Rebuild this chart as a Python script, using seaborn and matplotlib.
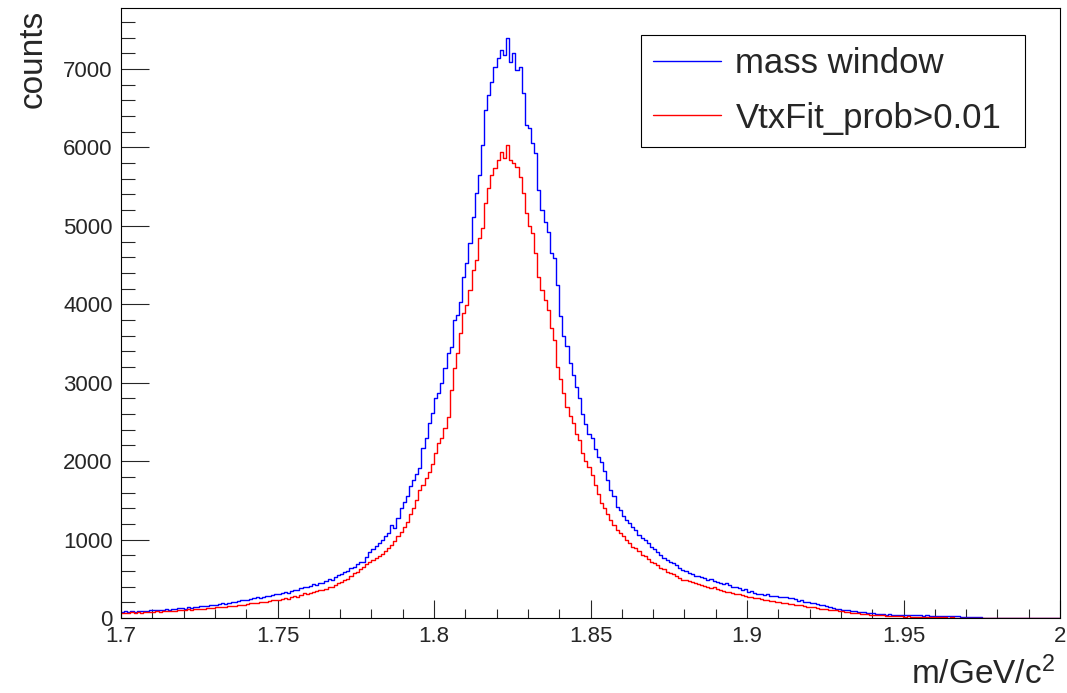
import numpy as np
import pandas as pd
import seaborn as sns
import matplotlib.pyplot as plt
from matplotlib.lines import Line2D
from matplotlib.ticker import MultipleLocator, FormatStrFormatter

# histogram: 300 bins of width 0.001 between 1.7 and 2.0 GeV/c^2
x_min, x_max, n_bins = 1.7, 2.0, 300

mass_window = [
    78, 84, 76, 88, 82, 90, 86, 94, 88, 96,
    102, 98, 108, 104, 112, 106, 118, 114, 122, 126,
    120, 138, 132, 144, 140, 150, 156, 148, 162, 168,
    160, 176, 187, 180, 194, 204, 198, 212, 224, 232,
    226, 244, 250, 262, 256, 272, 284, 276, 296, 306,
    300, 322, 330, 318, 348, 360, 354, 380, 400, 392,
    412, 430, 420, 452, 442, 470, 494, 486, 520, 548,
    560, 582, 600, 640, 655, 690, 720, 710, 780, 846,
    880, 920, 960, 1000, 1040, 1080, 1180, 1150, 1280, 1400,
    1483, 1560, 1680, 1760, 1840, 1908, 2163, 2290, 2482, 2610,
    2800, 2865, 2992, 3183, 3375, 3460, 3800, 3863, 4033, 4352,
    4522, 4777, 5117, 5414, 5648, 6030, 6477, 6668, 6838, 7030,
    7136, 7242, 7178, 7400, 7093, 7200, 6990, 7030, 6700, 6286,
    6243, 6060, 5925, 5457, 5200, 5054, 4926, 4650, 4586, 4250,
    3850, 3600, 3470, 3250, 3100, 2950, 2800, 2600, 2480, 2350,
    2300, 2150, 2057, 1993, 1880, 1760, 1632, 1560, 1419, 1380,
    1300, 1250, 1210, 1160, 1122, 1060, 1016, 990, 950, 909,
    880, 840, 800, 770, 740, 720, 700, 680, 640, 612,
    600, 575, 560, 540, 535, 527, 510, 490, 500, 470,
    463, 450, 430, 440, 415, 400, 395, 380, 360, 370,
    336, 340, 320, 310, 312, 293, 300, 285, 280, 276,
    272, 262, 272, 255, 250, 240, 221, 228, 210, 200,
    195, 187, 180, 165, 160, 150, 140, 124, 120, 112,
    105, 102, 98, 90, 85, 80, 76, 72, 66, 60,
    58, 55, 50, 47, 44, 45, 42, 40, 44, 38,
    40, 36, 38, 35, 34, 32, 30, 33, 28, 30,
    26, 28, 25, 27, 24, 22, 20, 22, 18, 16,
    14, 15, 12, 10, 8, 6, 4, 5, 3, 2,
    3, 1, 2, 1, 0, 1, 0, 0, 1, 0,
    0, 0, 0, 1, 0, 0, 0, 0, 0, 0,
]

vtx_prob = [
    66, 70, 64, 72, 68, 74, 70, 78, 72, 76,
    80, 84, 78, 88, 84, 90, 94, 88, 98, 102,
    96, 110, 106, 114, 110, 120, 116, 126, 130, 124,
    134, 140, 145, 138, 150, 156, 150, 162, 170, 166,
    176, 186, 195, 190, 202, 210, 204, 218, 224, 230,
    226, 240, 252, 246, 264, 276, 270, 290, 315, 306,
    322, 330, 340, 352, 357, 372, 390, 400, 420, 442,
    460, 480, 500, 530, 570, 590, 620, 650, 690, 718,
    740, 760, 790, 820, 850, 888, 930, 980, 1040, 1100,
    1164, 1230, 1320, 1400, 1500, 1632, 1700, 1780, 1860, 1960,
    2100, 2227, 2290, 2420, 2567, 2907, 3183, 3375, 3630, 3884,
    3990, 4182, 4437, 4565, 4841, 4969, 5287, 5478, 5648, 5733,
    5840, 5946, 5860, 6031, 5840, 5800, 5755, 5627, 5414, 5160,
    5000, 4905, 4650, 4352, 4182, 4050, 3927, 3700, 3545, 3204,
    3050, 2865, 2694, 2580, 2482, 2350, 2270, 2100, 2000, 1929,
    1820, 1700, 1580, 1462, 1400, 1320, 1250, 1190, 1122, 1080,
    1040, 995, 950, 900, 888, 850, 803, 790, 750, 718,
    700, 670, 640, 620, 591, 580, 560, 540, 510, 485,
    490, 470, 455, 440, 430, 421, 410, 400, 385, 390,
    366, 360, 345, 330, 335, 315, 310, 300, 290, 280,
    272, 265, 255, 250, 240, 230, 232, 222, 215, 205,
    200, 195, 188, 180, 175, 170, 166, 160, 152, 145,
    140, 136, 128, 120, 115, 110, 104, 102, 96, 90,
    84, 78, 72, 68, 64, 60, 56, 51, 48, 44,
    40, 38, 34, 32, 30, 28, 26, 24, 22, 20,
    18, 20, 16, 18, 14, 15, 12, 14, 10, 12,
    9, 10, 8, 9, 6, 7, 5, 6, 4, 5,
    3, 4, 2, 3, 2, 1, 2, 1, 0, 1,
    0, 0, 1, 0, 0, 0, 0, 0, 0, 0,
    0, 0, 0, 0, 0, 0, 0, 0, 0, 0,
]

labels = ["mass window", "VtxFit_prob>0.01"]
colors = ["#0000ff", "#ff0000"]

bin_w = (x_max - x_min) / n_bins
centers = x_min + bin_w * (np.arange(n_bins) + 0.5)
df = pd.DataFrame({"m": centers, "mass_window": mass_window, "vtx": vtx_prob})

sns.set_style("ticks")
plt.rcParams["font.family"] = ["Liberation Sans", "DejaVu Sans"]
plt.rcParams["mathtext.fontset"] = "custom"
plt.rcParams["mathtext.rm"] = "Liberation Sans"
plt.rcParams["mathtext.default"] = "regular"

fig = plt.figure(figsize=(10.67, 6.93), dpi=100)
ax = fig.add_axes([121 / 1067, 75 / 693, 939 / 1067, 610 / 693])

for col, color in zip(["mass_window", "vtx"], colors):
    sns.histplot(data=df, x="m", weights=col, bins=n_bins, binrange=(x_min, x_max),
                 element="step", fill=False, color=color, linewidth=1.0, ax=ax)

ax.set_xlim(x_min, x_max)
ax.set_ylim(0, 7778)

# ROOT-like axes
for s in ax.spines.values():
    s.set_color("black")
    s.set_linewidth(0.8)
ax.xaxis.set_major_locator(MultipleLocator(0.05))
ax.xaxis.set_minor_locator(MultipleLocator(0.01))
ax.xaxis.set_major_formatter(FormatStrFormatter("%g"))
ax.yaxis.set_major_locator(MultipleLocator(1000))
ax.yaxis.set_minor_locator(MultipleLocator(200))
ax.tick_params(axis="x", which="major", direction="in", length=13, width=0.8,
               labelsize=16, pad=6, top=False)
ax.tick_params(axis="x", which="minor", direction="in", length=6.5, width=0.8, top=False)
ax.tick_params(axis="y", which="major", direction="in", length=20, width=0.8,
               labelsize=16, pad=6, right=False)
ax.tick_params(axis="y", which="minor", direction="in", length=10, width=0.8, right=False)

ax.set_xlabel("m/GeV/c$^{2}$", fontsize=24, loc="right")
ax.xaxis.set_label_coords(0.995, -0.063)
ax.set_ylabel("counts", fontsize=24, loc="top")
ax.yaxis.set_label_coords(-0.077, 0.997)

handles = [Line2D([], [], color=c, linewidth=1.0) for c in colors]
leg = ax.legend(handles, labels, loc="upper left",
                bbox_to_anchor=(0.5538, 0.774, 0.409, 0.182), mode="expand",
                borderaxespad=0, fontsize=25, frameon=True, fancybox=False,
                framealpha=1, edgecolor="black", handlelength=1.95,
                handletextpad=0.42, labelspacing=0.62, borderpad=0.35)
leg.get_frame().set_linewidth(0.8)

fig.savefig("out.png", dpi=100)
